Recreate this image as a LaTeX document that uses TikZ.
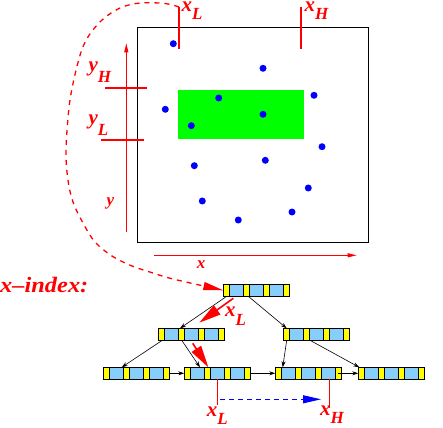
\documentclass[tikz,border=0pt]{standalone}
\usepackage{fontspec}
\setmainfont{Liberation Serif}
\usetikzlibrary{arrows.meta}
\definecolor{yel}{RGB}{255,255,0}
\definecolor{lblue}{RGB}{135,206,250}
\definecolor{grn}{RGB}{0,255,0}
\definecolor{dotblue}{RGB}{0,0,255}
\definecolor{rd}{RGB}{255,0,0}
\newcommand\lab[3]{{\bfseries\itshape\fontsize{21}{21}\selectfont #1\raisebox{-#3pt}{\fontsize{17}{17}\selectfont #2}}}
\newcommand\bnode[3]{%
  \node[bnodebox, anchor=north west] (#1) at (#2,#3) {};
  \foreach \k in {0,1,2,3} {\fill[yel] ([xshift={\k*19.9pt}]#1.north west) rectangle ++(6.3,12);}
  \draw[cellline] (#1.north west) rectangle (#1.south east);
  \foreach \k in {6.3,19.9,26.2,39.8,46.1,59.7} {\draw[cellline] ([xshift=\k pt]#1.north west) -- ([xshift=\k pt]#1.south west);}
}
\tikzset{
  bnodebox/.style={minimum width=66pt, minimum height=12pt, inner sep=0pt, outer sep=0pt, fill=lblue},
  cellline/.style={black, line width=0.8pt},
  lbl/.style={rd, inner sep=0pt, anchor=base west},
  toplbl/.style={lbl, text height=10pt},
  tick/.style={draw=rd, line width=1.5pt},
  dot/.style={fill=dotblue},
  blk/.style={black, line width=0.6pt, -{Stealth[length=6pt,width=4pt]}},
  redarrow/.style={rd, line width=1.6pt, -{Triangle[length=22pt,width=11pt]}},
  axis/.style={rd, line width=1pt, -{Triangle[length=9pt,width=4pt]}},
  dashcurve/.style={rd, line width=1.3pt, dash pattern=on 5pt off 5pt, -{Triangle[length=20pt,width=8pt]}},
  bluearrow/.style={dotblue, line width=0.9pt, dash pattern=on 5pt off 4pt, -{Triangle[length=18pt,width=8pt]}},
}
\begin{document}
\begin{tikzpicture}[x=1pt,y=-1pt]
\useasboundingbox (0,0) rectangle (443,427);
% data box
\node[draw=black, line width=1pt, minimum width=231pt, minimum height=215pt, inner sep=0pt, anchor=north west] (box) at (137.3,27.3) {};
\node[fill=grn, minimum width=126pt, minimum height=48.5pt, inner sep=0pt, anchor=north west] (query) at (178,90) {};
% points
\foreach \px/\py in {173.3/43.7, 263/68.3, 314/95.3, 218.7/98, 165.3/109.3, 263/114.3, 191.3/125.7, 322/146.7, 194.3/165.7, 265.3/160.3, 308.3/188, 202.3/201, 292/212, 238.3/220}
  \fill[dot] (\px,\py) circle (3.5);
% ticks top
\coordinate (xlt) at (179,7);
\coordinate (xlb) at (179,48.7);
\coordinate (xht) at (301,7);
\coordinate (xhb) at (301,48.7);
\draw[tick] (xlt) -- (xlb);
\draw[tick] (xht) -- (xhb);
\node[toplbl] (labxl) at (181.5,12) {\lab{x}{L}{7.5}};
\node[toplbl] (labxh) at (304.5,12) {\lab{x}{H}{7.5}};
% y axis
\coordinate (ya0) at (126.3,231.7);
\coordinate (ya1) at (126.3,43.3);
\draw[axis] (ya0) -- (ya1);
\coordinate (yh0) at (105,88);
\coordinate (yh1) at (146.7,88);
\coordinate (yl0) at (101,140);
\coordinate (yl1) at (143.7,140);
\draw[tick] (yh0) -- (yh1);
\draw[tick] (yl0) -- (yl1);
\node[lbl] (labyh) at (88.3,72) {\lab{y}{H}{11}};
\node[lbl] (labyl) at (88.3,125) {\lab{y}{L}{11}};
\node[lbl] (laby) at (106.5,206) {\bfseries\itshape\fontsize{17}{17}\selectfont y};
% x axis
\coordinate (xa0) at (154,255.3);
\coordinate (xa1) at (356.7,255.3);
\draw[axis] (xa0) -- (xa1);
\node[lbl] (labx) at (196.7,268.3) {\bfseries\itshape\fontsize{17}{17}\selectfont x};
% index label
\node[lbl] (idx) at (0,292.7) {\scalebox{1.11}[1]{\bfseries\itshape\fontsize{22}{22}\selectfont x\textendash index:}};
% B-tree nodes
\bnode{T}{223.3}{284.3}
\bnode{L}{158.3}{328.3}
\bnode{R}{283.3}{328.3}
\bnode{A}{103.3}{367.3}
\bnode{B}{184.3}{367.3}
\bnode{C}{275.3}{367.3}
\bnode{D}{358.3}{367.3}
% dashed curve from x_L tick to index root
\draw[dashcurve] plot[smooth, tension=0.55] coordinates {(xlt) (165,3.5) (140,3) (120,8) (102,20) (88,37) (79.5,57) (70,100) (66,150) (68,180) (73,202) (83,223) (95,242) (112,256) (132,266) (153,273) (173,279) (T.west)};
% black tree edges
\draw[blk] ([xshift=3.4pt]T.south west) -- ([xshift=21.7pt]L.north west);
\draw[blk] ([xshift=25pt]T.south west) -- ([xshift=3.4pt]R.north west);
\draw[blk] ([xshift=4pt]L.south west) -- ([xshift=18.4pt]A.north west);
\draw[blk] ([xshift=23.4pt]L.south west) -- ([xshift=15.7pt]B.north west);
\draw[blk] ([xshift=3.4pt]R.south west) -- ([xshift=7.4pt]C.north west);
\draw[blk] ([xshift=26.7pt]R.south west) -- ([xshift=1pt]D.north west);
\draw[blk] (A.east) -- (B.west);
\draw[blk] (B.east) -- (C.west);
\draw[blk] ([xshift=-3pt]C.east) -- (D.west);
% red search arrows
\coordinate (s1) at (199.3,322.7);
\draw[redarrow] ([xshift=10pt,yshift=-2pt]T.south west) -- (s1);
\node[lbl] (labmid) at (225,316.7) {\lab{x}{L}{8.3}};
\draw[redarrow] ([xshift=34.4pt,yshift=-3pt]L.south west) -- ([xshift=24pt]B.north west);
% leaf ticks
\coordinate (bt) at (217.3,405);
\coordinate (ct) at (329.3,408.3);
\draw[tick] ([xshift=33pt]B.south west) -- (bt);
\draw[tick] ([xshift=54pt]C.south west) -- (ct);
\node[lbl] (labbl) at (206.7,416.2) {\lab{x}{L}{8.5}};
\node[lbl] (labbh) at (320,415) {\lab{x}{H}{8.5}};
% scan arrow
\coordinate (bs) at (220,399.3);
\coordinate (be) at (321,399.3);
\draw[bluearrow] (bs) -- (be);
\end{tikzpicture}
\end{document}
